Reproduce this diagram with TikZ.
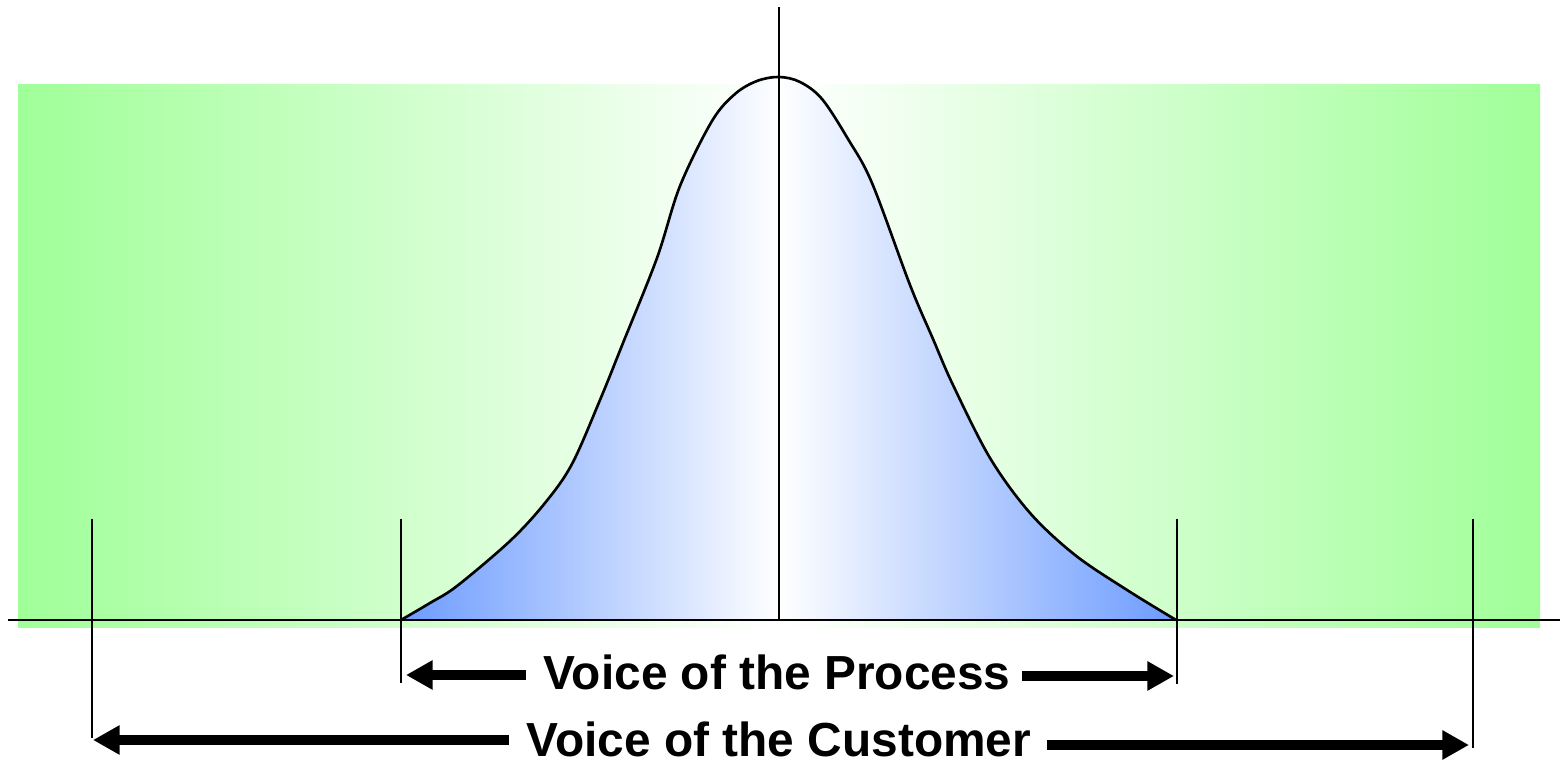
\documentclass[tikz,border=0pt]{standalone}
\usepackage{fontspec}
\setmainfont{Liberation Sans}
\usetikzlibrary{arrows.meta}
\definecolor{bggreen}{RGB}{160,255,152}
\definecolor{curveblue}{RGB}{108,155,255}
\begin{document}
\begin{tikzpicture}[x=0.01cm,y=-0.01cm,
  thinline/.style={line width=0.75pt, black},
  curveline/.style={line width=0.75pt, black, line join=round},
  bigarrow/.style={line width=2.6pt, -{Triangle[length=7.6pt,width=7.9pt]}},
  voice/.style={font=\bfseries\fontsize{13.6}{16}\selectfont, inner sep=0pt, anchor=base}]
\useasboundingbox (0,0) rectangle (1560,762);
% green background
\shade[left color=bggreen, right color=white] (18,85) rectangle (779.5,628);
\shade[left color=white, right color=bggreen] (779,85) rectangle (1540,628);
% blue fill under the curve
\begin{scope}
\clip plot[smooth,tension=0.55] coordinates {(401,620) (430,603) (457,586) (510,541) (545,503) (572,464) (600,400) (623,343) (657,258) (680,186) (712,121) (735,94) (757,81) (779,77) (800,82) (822,99) (848,139) (872,183) (910,285) (933,339) (953,385) (990,458) (1030,513) (1075,555) (1127,590) (1176,620)} -- cycle;
\shade[left color=curveblue, right color=white] (401,60) rectangle (779.5,621);
\shade[left color=white, right color=curveblue] (779,60) rectangle (1176,621);
\end{scope}
\draw[curveline] plot[smooth,tension=0.55] coordinates {(401,620) (430,603) (457,586) (510,541) (545,503) (572,464) (600,400) (623,343) (657,258) (680,186) (712,121) (735,94) (757,81) (779,77) (800,82) (822,99) (848,139) (872,183) (910,285) (933,339) (953,385) (990,458) (1030,513) (1075,555) (1127,590) (1176,620)};
% axes
\coordinate (xa) at (8,620);
\coordinate (xb) at (1560,620);
\coordinate (ya) at (779,620);
\coordinate (yb) at (779,7);
\draw[thinline] (xa) -- (xb);
\draw[thinline] (ya) -- (yb);
% limit ticks
\coordinate (t1a) at (92,519);   \coordinate (t1b) at (92,738);
\coordinate (t2a) at (401,519);  \coordinate (t2b) at (401,683);
\coordinate (t3a) at (1177,519); \coordinate (t3b) at (1177,684);
\coordinate (t4a) at (1473,519); \coordinate (t4b) at (1473,748);
\draw[thinline] (t1a) -- (t1b);
\draw[thinline] (t2a) -- (t2b);
\draw[thinline] (t3a) -- (t3b);
\draw[thinline] (t4a) -- (t4b);
% labels
\node[voice] (vop) at (777,690) {Voice of the Process};
\node[voice] (voc) at (779,757) {Voice of the Customer};
% arrows
\coordinate (pla) at (526,675);  \coordinate (plb) at (406,675);
\coordinate (pra) at (1022,676); \coordinate (prb) at (1174,676);
\coordinate (cla) at (509,740);  \coordinate (clb) at (93,740);
\coordinate (cra) at (1047,745); \coordinate (crb) at (1469,745);
\draw[bigarrow] (pla) -- (plb);
\draw[bigarrow] (pra) -- (prb);
\draw[bigarrow] (cla) -- (clb);
\draw[bigarrow] (cra) -- (crb);
\end{tikzpicture}
\end{document}
